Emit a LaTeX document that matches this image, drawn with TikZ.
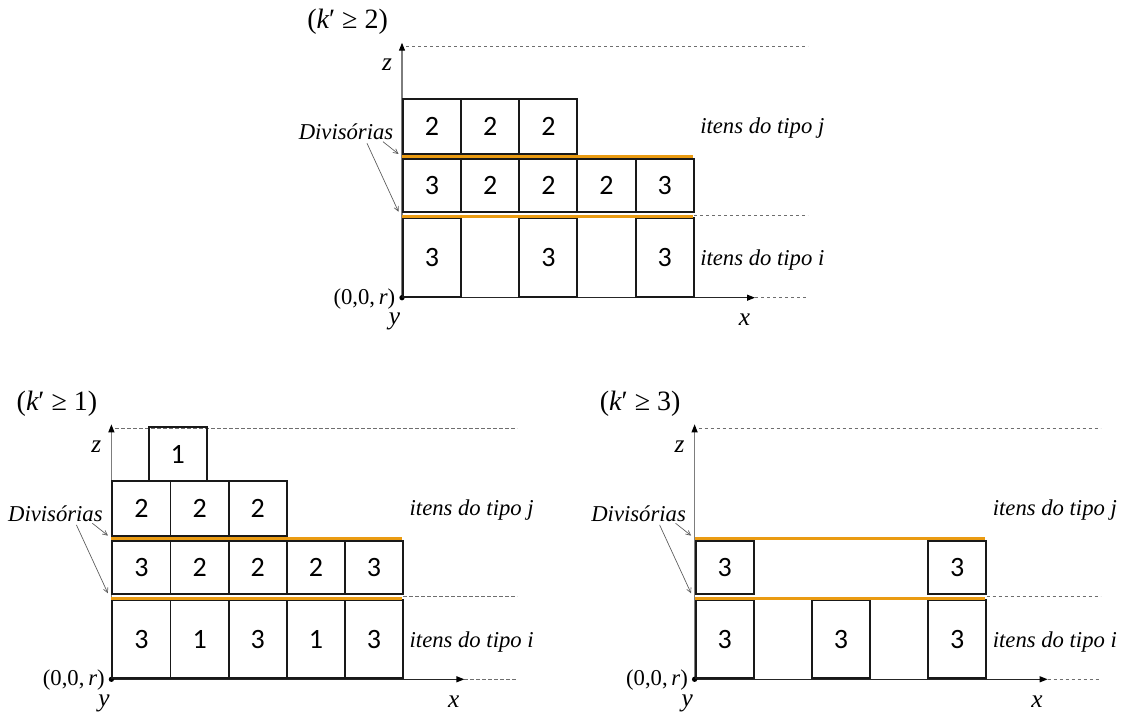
\documentclass[tikz,border=0pt]{standalone}
\usepackage{fontspec}
\newfontfamily\digitfont{Carlito}
\newfontfamily\wordfont{Liberation Serif}
\usetikzlibrary{arrows.meta}
\definecolor{divorange}{RGB}{234,155,18}
\definecolor{axisgray}{RGB}{125,125,125}
\definecolor{guidegray}{RGB}{110,110,110}
\tikzset{
  itembox/.style={draw=black!90, line width=1.45pt, minimum width=43.62pt, inner sep=0pt, anchor=south west, font=\digitfont\fontsize{21}{23}\selectfont},
  rowi/.style={itembox, minimum height=58.8pt},
  rowm/.style={itembox, minimum height=40pt},
  rowj/.style={itembox, minimum height=41.25pt},
  divline/.style={draw=divorange, line width=2.7pt},
  zaxis/.style={draw=axisgray, line width=0.8pt, -{Triangle[length=6pt,width=4.5pt,color=black]}},
  xaxis/.style={draw=black!85, line width=0.9pt, -{Triangle[length=6pt,width=4.5pt,color=black]}},
  guide/.style={draw=guidegray, line width=0.5pt, dash pattern=on 2.6pt off 1.9pt},
  pointer/.style={draw=black!65, line width=0.5pt, -{Straight Barb[length=3.5pt,width=3.5pt]}},
  wordlab/.style={inner sep=0pt, font=\wordfont\itshape\fontsize{17}{19}\selectfont},
  mathlab/.style={inner sep=0pt, font=\wordfont\itshape\fontsize{19}{21}\selectfont},
  klab/.style={inner sep=0pt, font=\wordfont\fontsize{21}{23}\selectfont},
  origlab/.style={inner sep=0pt, font=\wordfont\fontsize{17}{19}\selectfont},
}
\newcommand{\drawframe}[2]{%
  \coordinate (#1o) at (0,0);
  \coordinate (#1zt) at (0,255);
  \coordinate (#1xt) at (353,0);
  \coordinate (#1dxe) at (406,0);
  \coordinate (#1dt0) at (4,251);
  \coordinate (#1dt1) at (406,251);
  \coordinate (#1dm0) at (292,82.7);
  \coordinate (#1dm1) at (406,82.7);
  \draw[guide] (#1dt0) -- (#1dt1);
  \draw[guide] (#1xt) -- (#1dxe);
  \draw[guide] (#1dm0) -- (#1dm1);
  \draw[zaxis] (#1o) -- (#1zt);
  \draw[xaxis] (#1o) -- (#1xt);
  \fill[black] (#1o) circle[radius=2pt];
  \node[klab] (#1k) at (-54.4,276) {({\itshape k}′ ≥ #2)};
  \node[mathlab] (#1z) at (-15,232.7) {z};
  \node[mathlab] (#1y) at (-7.4,-24) {y};
  \node[mathlab] (#1x) at (342.4,-22.3) {x};
  \node[origlab, anchor=east] (#1orig) at (-6.5,-1) {(0,0,\,{\itshape r})};
  \node[wordlab] (#1div) at (-56,166) {Divisórias};
  \node[wordlab, anchor=west] (#1tj) at (298,169.4) {itens do tipo j};
  \node[wordlab, anchor=west] (#1ti) at (298,37.7) {itens do tipo i};
  \coordinate (#1p1s) at (-19,156);
  \coordinate (#1p1e) at (-3.5,143.7);
  \coordinate (#1p2s) at (-35,154.4);
  \coordinate (#1p2e) at (-3.5,86);
  \draw[pointer] (#1p1s) -- (#1p1e);
  \draw[pointer] (#1p2s) -- (#1p2e);
}
\newcommand{\drawdividers}[1]{%
  \coordinate (#1l1a) at (0,81);
  \coordinate (#1l1b) at (290.8,81);
  \coordinate (#1l2a) at (0,141);
  \coordinate (#1l2b) at (290.8,141);
  \draw[divline] (#1l1a) -- (#1l1b);
  \draw[divline] (#1l2a) -- (#1l2b);
}
\begin{document}
\begin{tikzpicture}[x=0.75pt,y=-0.75pt]
\useasboundingbox (0,0) rectangle (1128,713);
% ---------- top diagram (k' >= 2)
\begin{scope}[shift={(402,297.7)},yscale=-1]
  \drawframe{A}{2}
  \node[rowi] (Ab0) at (0,0) {3};
  \node[rowi] (Ab2) at (116.32,0) {3};
  \node[rowi] (Ab4) at (232.64,0) {3};
  \node[rowm] (Am0) at (0,84.4) {3};
  \node[rowm] (Am1) at (58.16,84.4) {2};
  \node[rowm] (Am2) at (116.32,84.4) {2};
  \node[rowm] (Am3) at (174.48,84.4) {2};
  \node[rowm] (Am4) at (232.64,84.4) {3};
  \node[rowj] (At0) at (0,142.7) {2};
  \node[rowj] (At1) at (58.16,142.7) {2};
  \node[rowj] (At2) at (116.32,142.7) {2};
  \drawdividers{A}
\end{scope}
% ---------- bottom-left diagram (k' >= 1)
\begin{scope}[shift={(111.4,679.3)},yscale=-1]
  \drawframe{B}{1}
  \node[rowi] (Bb0) at (0,0) {3};
  \node[rowi] (Bb1) at (58.16,0) {1};
  \node[rowi] (Bb2) at (116.32,0) {3};
  \node[rowi] (Bb3) at (174.48,0) {1};
  \node[rowi] (Bb4) at (232.64,0) {3};
  \node[rowm] (Bm0) at (0,84.4) {3};
  \node[rowm] (Bm1) at (58.16,84.4) {2};
  \node[rowm] (Bm2) at (116.32,84.4) {2};
  \node[rowm] (Bm3) at (174.48,84.4) {2};
  \node[rowm] (Bm4) at (232.64,84.4) {3};
  \node[rowj] (Bt0) at (0,142.7) {2};
  \node[rowj] (Bt1) at (58.16,142.7) {2};
  \node[rowj] (Bt2) at (116.32,142.7) {2};
  \node[rowm] (Bs0) at (36.3,197.6) {1};
  \drawdividers{B}
\end{scope}
% ---------- bottom-right diagram (k' >= 3)
\begin{scope}[shift={(694.6,679.3)},yscale=-1]
  \drawframe{C}{3}
  \node[rowi] (Cb0) at (0,0) {3};
  \node[rowi] (Cb2) at (116.32,0) {3};
  \node[rowi] (Cb4) at (232.64,0) {3};
  \node[rowm] (Cm0) at (0,84.4) {3};
  \node[rowm] (Cm4) at (232.64,84.4) {3};
  \drawdividers{C}
\end{scope}
\end{tikzpicture}
\end{document}
